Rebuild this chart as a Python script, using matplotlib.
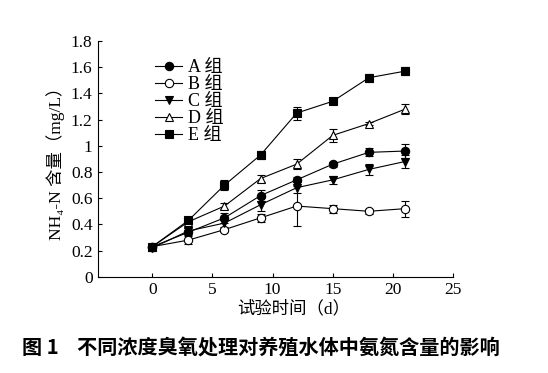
import matplotlib
matplotlib.use("Agg")
import matplotlib.pyplot as plt
from matplotlib.lines import Line2D

plt.rcParams['font.family'] = ['Liberation Serif', 'DejaVu Serif', 'Noto Sans CJK SC']

days = [0, 3, 6, 9, 12, 15, 18, 21]
groups = ['A 组', 'B 组', 'C 组', 'D 组', 'E 组']

a_vals = [0.23, 0.34, 0.45, 0.62, 0.74, 0.86, 0.95, 0.96]
b_vals = [0.23, 0.28, 0.36, 0.45, 0.54, 0.52, 0.50, 0.52]
c_vals = [0.22, 0.35, 0.41, 0.55, 0.68, 0.74, 0.82, 0.88]
d_vals = [0.23, 0.42, 0.54, 0.75, 0.86, 1.08, 1.17, 1.28]
e_vals = [0.23, 0.43, 0.70, 0.93, 1.25, 1.34, 1.52, 1.57]

a_err = [0.01, 0.02, 0.04, 0.04, 0.02, 0.02, 0.03, 0.05]
b_err = [0.01, 0.03, 0.02, 0.03, 0.15, 0.03, 0.02, 0.06]
c_err = [0.01, 0.02, 0.04, 0.05, 0.04, 0.03, 0.04, 0.05]
d_err = [0.01, 0.02, 0.02, 0.03, 0.04, 0.05, 0.01, 0.04]
e_err = [0.01, 0.02, 0.04, 0.03, 0.05, 0.01, 0.03, 0.03]

series = [a_vals, b_vals, c_vals, d_vals, e_vals]
errors = [a_err, b_err, c_err, d_err, e_err]
markers = ['o', 'o', 'v', '^', 's']
faces = ['black', 'white', 'black', 'white', 'black']

fig = plt.figure(figsize=(5.48, 3.73), dpi=100)
ax = fig.add_axes([0.179, 0.258, 0.648, 0.632])

handles = []
for vals, err, m, fc, lab in zip(series, errors, markers, faces, groups):
    ax.errorbar(days, vals, yerr=err, color='black', lw=0.8, marker=m,
                markersize=6, mfc=fc, mec='black', mew=0.8,
                ecolor='black', elinewidth=0.8, capsize=3, capthick=0.8)
    handles.append(Line2D([], [], color='black', lw=0.8, marker=m,
                          markersize=6, mfc=fc, mec='black', mew=0.8, label=lab))

ax.set_xlim(-4.5, 25)
ax.set_ylim(0, 1.8)
ax.set_xticks([0, 5, 10, 15, 20, 25])
ax.set_yticks([0, 0.2, 0.4, 0.6, 0.8, 1, 1.2, 1.4, 1.6, 1.8])
ax.set_yticklabels(['0', '0.2', '0.4', '0.6', '0.8', '1', '1.2', '1.4', '1.6', '1.8'])
ax.tick_params(direction='in', labelsize=12.5, length=3, width=0.8, pad=4)
ax.spines['top'].set_visible(False)
ax.spines['right'].set_visible(False)
for s in ['left', 'bottom']:
    ax.spines[s].set_linewidth(0.8)

ax.set_xlabel('试验时间（d）', fontsize=12.5, labelpad=3)
ax.xaxis.set_label_coords(0.55, -0.1)
ax.set_ylabel('NH₄-N 含量（mg/L）', fontsize=12.5, labelpad=4)

ax.legend(handles=handles, loc='upper left', bbox_to_anchor=(0.14, 0.955),
          frameon=False, fontsize=13, handlelength=1.5, handletextpad=0.35,
          labelspacing=0.0, borderaxespad=0)

fig.text(0.04, 0.05, '图 1    不同浓度臭氧处理对养殖水体中氨氮含量的影响',
         fontsize=14.5, fontweight='bold', family=['Noto Sans CJK SC'])

fig.savefig('out.png', dpi=100)
